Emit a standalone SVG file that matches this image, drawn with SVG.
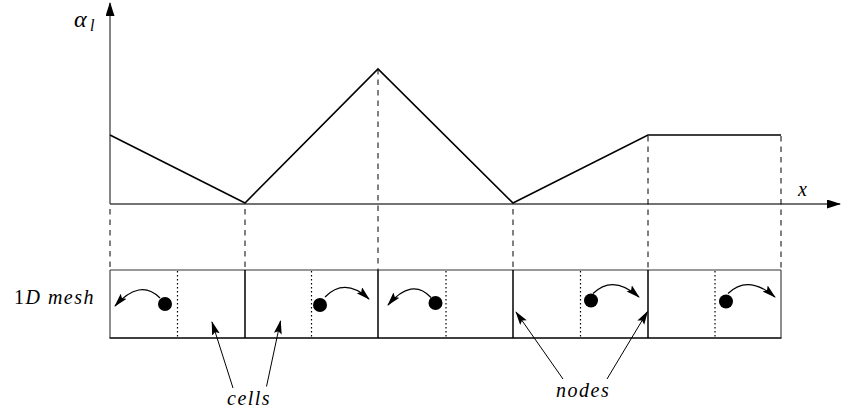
<svg xmlns="http://www.w3.org/2000/svg" width="841" height="413" viewBox="0 0 841 413">
<style>
.ax{stroke:#444;stroke-width:1.3;fill:none}
.curve{stroke:#000;stroke-width:1.6;fill:none}
.dash{stroke:#000;stroke-width:1;stroke-dasharray:5.5 5;fill:none}
.dot{stroke:#000;stroke-width:1.2;stroke-dasharray:1.5 2.5;fill:none}
.solid{stroke:#000;stroke-width:1.5;fill:none}
.thin{stroke:#333;stroke-width:1.1;fill:none}
.arc{stroke:#000;stroke-width:1.2;fill:none}
.ptr{stroke:#000;stroke-width:1;fill:none}
.lbl{font-family:"Liberation Serif",serif;font-style:italic;font-size:20px;fill:#000;letter-spacing:1.5px}
</style>
<defs>
<marker id="axh" markerUnits="userSpaceOnUse" markerWidth="14" markerHeight="9" refX="13" refY="4.5" orient="auto">
<path d="M0,0 L14,4.5 L0,9 z" fill="#000"/>
</marker>
<marker id="ah" markerUnits="userSpaceOnUse" markerWidth="14" markerHeight="9" refX="13" refY="4" orient="auto">
<path d="M0,0 L14,4 L0,8 L2.5,4 z" fill="#000"/>
</marker>
</defs>
<g id="axes">
<line class="ax" x1="110" y1="204" x2="110" y2="3" marker-end="url(#axh)"/>
<line class="ax" x1="110" y1="204" x2="840" y2="204" marker-end="url(#axh)"/>
<text x="74" y="27" font-family="Liberation Serif,serif" font-style="italic" font-size="24">α</text>
<text x="90" y="31" font-family="Liberation Serif,serif" font-style="italic" font-size="16">l</text>
<text x="798" y="196" font-family="Liberation Serif,serif" font-style="italic" font-size="20">x</text>
</g>
<g id="profile">
<polyline class="curve" points="110,135 245,203 378,69 513,203 648,135 781,135"/>
</g>
<g id="guides">
<line class="dash" x1="378" y1="69" x2="378" y2="270"/>
<line class="dash" x1="648" y1="136" x2="648" y2="270"/>
<line class="dash" x1="781" y1="136" x2="781" y2="270"/>
<line class="dash" x1="110" y1="209" x2="110" y2="270"/>
<line class="dash" x1="245" y1="209" x2="245" y2="270"/>
<line class="dash" x1="513" y1="209" x2="513" y2="270"/>
</g>
<g id="mesh">
<line class="thin" x1="110" y1="270" x2="781" y2="270"/>
<line class="solid" x1="109.5" y1="338" x2="781.5" y2="338"/>
<line class="thin" x1="110" y1="270" x2="110" y2="338"/>
<line class="thin" x1="781" y1="270" x2="781" y2="338"/>
<text class="lbl" x="95" y="304" text-anchor="end"><tspan font-style="normal">1</tspan>D mesh</text>
</g>
<g id="node-1"><line class="solid" x1="245" y1="270" x2="245" y2="338"/></g>
<g id="node-2"><line class="solid" x1="378" y1="270" x2="378" y2="338"/></g>
<g id="node-3"><line class="solid" x1="513" y1="270" x2="513" y2="338"/></g>
<g id="node-4"><line class="solid" x1="648" y1="270" x2="648" y2="338"/></g>
<g id="cell-1">
<line class="dot" x1="177.5" y1="271" x2="177.5" y2="338"/>
<circle cx="165" cy="304" r="7" fill="#000"/>
</g>
<g id="cell-2">
<line class="dot" x1="311.5" y1="271" x2="311.5" y2="338"/>
<circle cx="320" cy="305" r="7" fill="#000"/>
</g>
<g id="cell-3">
<line class="dot" x1="446" y1="271" x2="446" y2="338"/>
<circle cx="435.5" cy="303" r="7" fill="#000"/>
</g>
<g id="cell-4">
<line class="dot" x1="580.5" y1="271" x2="580.5" y2="338"/>
<circle cx="591" cy="300.5" r="7" fill="#000"/>
</g>
<g id="cell-5">
<line class="dot" x1="715" y1="271" x2="715" y2="338"/>
<circle cx="726" cy="301.5" r="7" fill="#000"/>
</g>
<g id="labels">
<text class="lbl" x="227" y="405">cells</text>
<text class="lbl" x="556" y="397">nodes</text>
</g>
<g id="connectors">
<path class="arc" d="M160,298 Q140,278 115,306" marker-end="url(#ah)"/>
<path class="arc" d="M325,297 Q345,277 369,299" marker-end="url(#ah)"/>
<path class="arc" d="M431,297.5 Q412,277 388,305" marker-end="url(#ah)"/>
<path class="arc" d="M593,293.5 Q613,274 639,297" marker-end="url(#ah)"/>
<path class="arc" d="M728,293.5 Q748,274 775,297" marker-end="url(#ah)"/>
<line class="ptr" x1="233" y1="388" x2="212" y2="322" marker-end="url(#ah)"/>
<line class="ptr" x1="266.5" y1="386.5" x2="280.5" y2="321" marker-end="url(#ah)"/>
<line class="ptr" x1="563" y1="379" x2="516" y2="312" marker-end="url(#ah)"/>
<line class="ptr" x1="607" y1="379" x2="647.5" y2="311.5" marker-end="url(#ah)"/>
</g>
</svg>
